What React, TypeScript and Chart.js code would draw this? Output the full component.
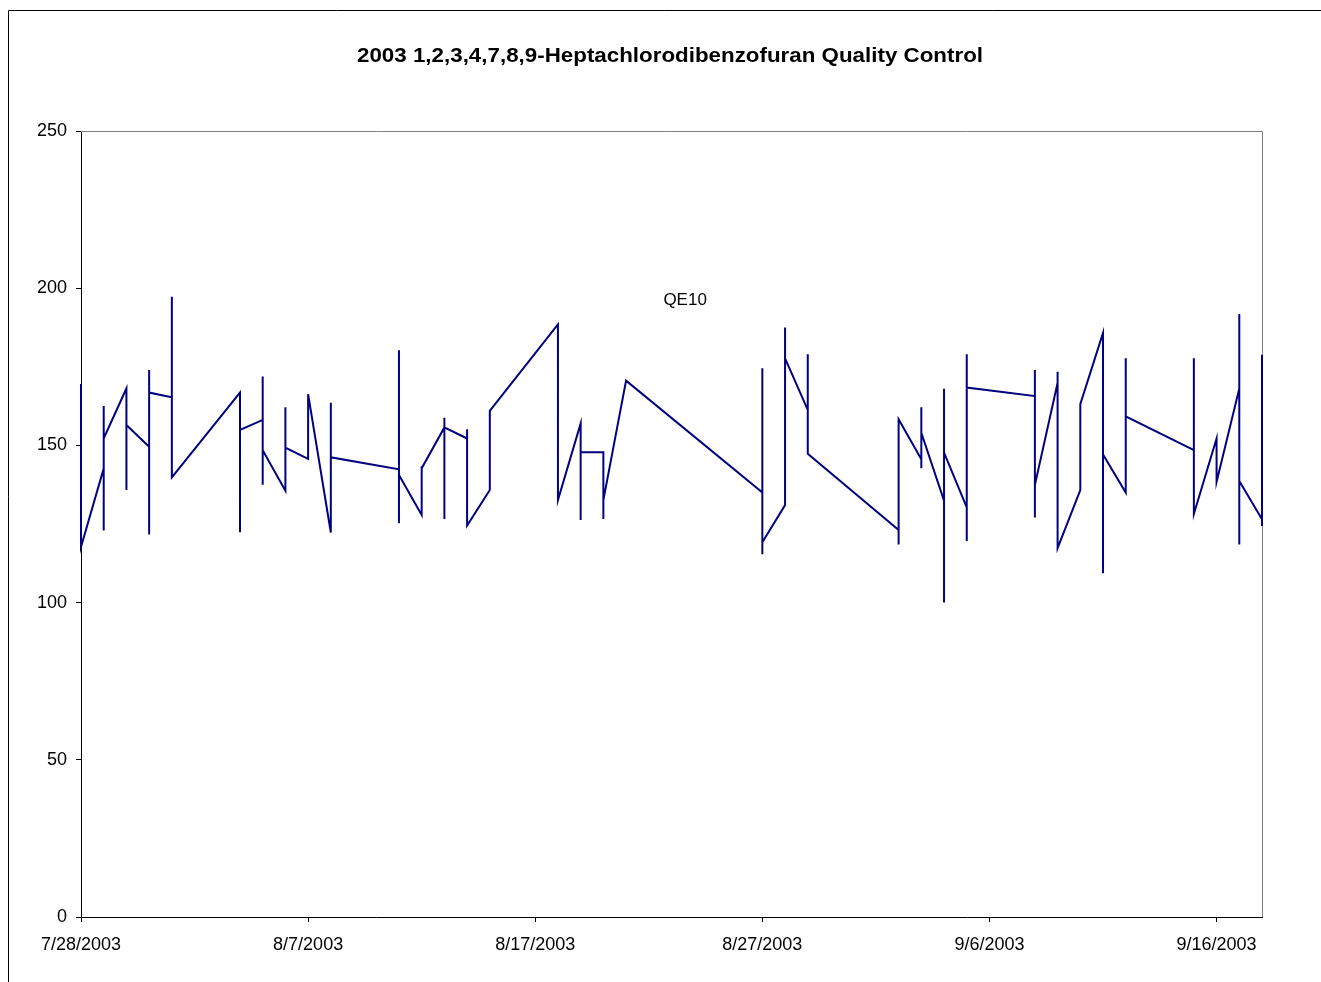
import React, { useEffect, useRef } from 'react';
import { Chart, registerables } from 'chart.js';

Chart.register(...registerables);

const chartTitle = '2003 1,2,3,4,7,8,9-Heptachlorodibenzofuran Quality Control';
const seriesLabel = 'QE10';
const axisStartDate = '7/28/2003';
const axisEndDate = '9/18/2003';
const xTickDates = ['7/28/2003', '8/7/2003', '8/17/2003', '8/27/2003', '9/6/2003', '9/16/2003'];
const yTickValues = [0, 50, 100, 150, 200, 250];

// Sample dates (each may hold several readings, drawn in order)
const runDates = [
  '7/28/2003', '7/29/2003', '7/30/2003', '7/31/2003', '8/1/2003',
  '8/4/2003', '8/5/2003', '8/6/2003', '8/7/2003', '8/8/2003',
  '8/11/2003', '8/12/2003', '8/13/2003', '8/14/2003', '8/15/2003',
  '8/18/2003', '8/19/2003', '8/20/2003', '8/21/2003',
  '8/27/2003', '8/28/2003', '8/29/2003',
  '9/2/2003', '9/3/2003', '9/4/2003', '9/5/2003',
  '9/8/2003', '9/9/2003', '9/10/2003', '9/11/2003', '9/12/2003',
  '9/15/2003', '9/16/2003', '9/17/2003', '9/18/2003',
];

const runValues = [
  [169.5, 117.7],
  [142.7, 162.5, 122.9, 152.2],
  [168.1, 135.8, 156.5],
  [149.6, 121.7, 174.0, 166.8],
  [165.3, 197.3, 139.8],
  [166.8, 122.4, 154.9],
  [158.1, 171.9, 137.5, 148.5],
  [135.6, 162.1, 149.3],
  [145.7, 166.3],
  [122.3, 163.6, 146.2],
  [142.4, 180.3, 125.2, 140.6],
  [127.9, 143.4, 142.7],
  [155.7, 158.8, 126.6, 155.7],
  [152.2, 155.1, 124.5],
  [135.8, 161.0],
  [188.5, 132.6],
  [157.0, 126.3, 147.8],
  [147.8, 126.6, 132.6],
  [170.6],
  [135.0, 174.5, 115.4, 119.2],
  [131.0, 187.5, 177.7],
  [161.3, 179.0, 147.3],
  [123.1, 118.5, 158.3],
  [145.6, 142.7, 162.1, 154.0],
  [132.4, 168.0, 100.0, 147.7],
  [130.3, 119.6, 179.0, 168.4],
  [165.7, 174.0, 127.1, 137.4],
  [169.9, 173.4, 117.3],
  [135.8, 163.1],
  [185.8, 109.3, 147.1],
  [135.0, 177.7, 159.2],
  [148.5, 177.7, 128.2],
  [152.2, 138.4],
  [168.1, 191.8, 118.5, 138.7],
  [126.5, 178.8, 124.4],
];

const DAY = 86400000;
function toUTC(s: string): number {
  const [m, d, y] = s.split('/').map(Number);
  return Date.UTC(y, m - 1, d);
}
const originUTC = toUTC(axisStartDate);
function dayIndex(s: string): number {
  return Math.round((toUTC(s) - originUTC) / DAY);
}
function formatDay(v: number): string {
  const dt = new Date(originUTC + v * DAY);
  return `${dt.getUTCMonth() + 1}/${dt.getUTCDate()}/${dt.getUTCFullYear()}`;
}

const FONT = '"Liberation Sans", Arial, Helvetica, sans-serif';

export default function App() {
  const ref = useRef<HTMLCanvasElement | null>(null);

  useEffect(() => {
    if (!ref.current) return;
    const points: { x: number; y: number }[] = [];
    runDates.forEach((d, i) => {
      runValues[i].forEach((v) => points.push({ x: dayIndex(d), y: v }));
    });

    const decor = {
      id: 'decor',
      beforeDatasetsDraw(chart: any) {
        const { ctx, chartArea } = chart;
        ctx.save();
        ctx.strokeStyle = '#808080';
        ctx.lineWidth = 1;
        ctx.beginPath();
        ctx.moveTo(chartArea.left, chartArea.top + 0.5);
        ctx.lineTo(chartArea.right + 0.5, chartArea.top + 0.5);
        ctx.lineTo(chartArea.right + 0.5, chartArea.bottom);
        ctx.stroke();
        ctx.restore();
      },
      afterDraw(chart: any) {
        const { ctx, scales } = chart;
        ctx.save();
        // outer frame
        ctx.strokeStyle = '#000000';
        ctx.lineWidth = 1;
        ctx.beginPath();
        ctx.moveTo(8.5, 982);
        ctx.lineTo(8.5, 10.5);
        ctx.lineTo(1321, 10.5);
        ctx.stroke();
        // title (slightly widened to match original proportions)
        ctx.fillStyle = '#000000';
        ctx.textAlign = 'center';
        ctx.textBaseline = 'middle';
        ctx.font = `bold 20px ${FONT}`;
        const w = ctx.measureText(chartTitle).width;
        const sx = w > 0 ? 626 / w : 1;
        ctx.save();
        ctx.translate(670, 56);
        ctx.scale(sx, 1);
        ctx.fillText(chartTitle, 0, 0);
        ctx.restore();
        // series label
        ctx.font = `17px ${FONT}`;
        const lx = scales.x.getPixelForValue(26.6);
        const ly = scales.y.getPixelForValue(196.2);
        ctx.fillText(seriesLabel, lx, ly);
        ctx.restore();
      },
    };

    const chart = new Chart(ref.current, {
      type: 'line',
      data: {
        datasets: [
          {
            label: seriesLabel,
            data: points,
            borderColor: '#000080',
            backgroundColor: '#000080',
            borderWidth: 2,
            pointRadius: 0,
            tension: 0,
            fill: false,
            clip: false,
          },
        ],
      },
      options: {
        animation: false,
        responsive: true,
        maintainAspectRatio: false,
        layout: { padding: { left: 0, top: 131, right: 59, bottom: 0 } },
        plugins: {
          legend: { display: false },
          title: { display: false },
          tooltip: { enabled: false },
        },
        scales: {
          x: {
            type: 'linear',
            min: 0,
            max: dayIndex(axisEndDate),
            afterBuildTicks: (s: any) => {
              s.ticks = xTickDates.map((d) => ({ value: dayIndex(d) }));
            },
            afterFit: (s: any) => {
              s.height = 65;
            },
            grid: { drawOnChartArea: false, drawTicks: true, tickLength: 5, color: '#000000' },
            border: { display: true, color: '#000000', width: 1 },
            ticks: {
              autoSkip: false,
              maxRotation: 0,
              padding: 12,
              color: '#000000',
              font: { family: FONT, size: 18 },
              callback: (v: any) => formatDay(Number(v)),
            },
          },
          y: {
            type: 'linear',
            min: 0,
            max: 250,
            afterBuildTicks: (s: any) => {
              s.ticks = yTickValues.map((v) => ({ value: v }));
            },
            afterFit: (s: any) => {
              s.width = 81;
            },
            grid: { drawOnChartArea: false, drawTicks: true, tickLength: 5, color: '#000000' },
            border: { display: true, color: '#000000', width: 1 },
            ticks: {
              padding: 9,
              color: '#000000',
              font: { family: FONT, size: 18 },
            },
          },
        },
      },
      plugins: [decor],
    });
    return () => chart.destroy();
  }, []);

  return (
    <div style={{ position: 'absolute', left: 0, top: 0, width: 1321, height: 982, background: '#ffffff' }}>
      <canvas ref={ref} />
    </div>
  );
}
